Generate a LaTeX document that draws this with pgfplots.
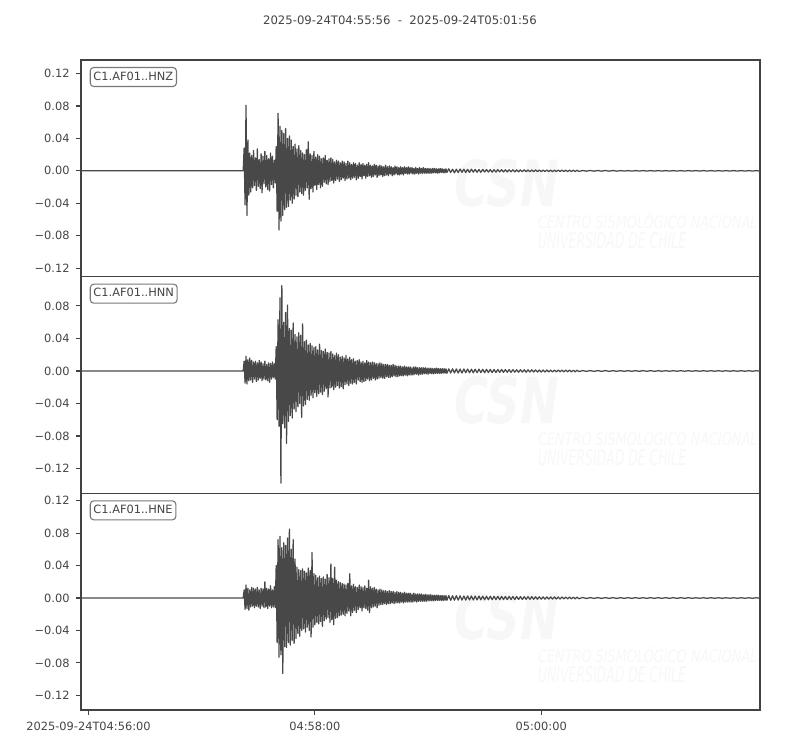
\documentclass[border=0pt]{standalone}
\usepackage{fontspec}
\setmainfont{DejaVu Sans}
\usepackage{pgfplots}
\pgfplotsset{compat=1.18}

\definecolor{trace}{RGB}{72,72,72}
\definecolor{frame}{RGB}{66,66,66}
\definecolor{txt}{RGB}{68,68,68}
\definecolor{boxline}{RGB}{120,120,120}
\definecolor{wmark}{RGB}{247,247,247}

\newcommand{\tfont}{\fontsize{8.2bp}{9.8bp}\selectfont}

\pgfplotsset{
  seis/.style={
    scale only axis, width=488.9bp, height=156bp,
    anchor=south west,
    xmin=-4, xmax=356,
    axis line style={draw=frame, line width=0.8bp},
    every tick/.style={draw=frame, line width=0.8bp},
    tick align=outside, major tick length=3.5bp,
    ytick pos=left, xtick pos=bottom,
    ticklabel style={font=\tfont, text=txt},
    yticklabel style={xshift=-1.2bp},
    xticklabel style={yshift=-2bp},
    clip=true,
  },
  trc/.style={draw=trace, line width=0.9bp, line join=round},
}
\tikzset{
  stn/.style={anchor=north west, draw=boxline, fill=white, rounded corners=2.5bp,
    line width=0.8bp, inner xsep=2.3bp, inner ysep=3.1bp, text height=6bp,
    text depth=1.5bp, font=\tfont, text=txt, xshift=6.3bp, yshift=-5bp},
}

\newcommand{\watermark}{%
  \node[text=wmark, anchor=center] at (rel axis cs:0.627,0.43)
    {\resizebox{75.6bp}{34bp}{\bfseries\itshape CSN}};
  \node[text=wmark, anchor=base west] at (rel axis cs:0.666,0.22)
    {\resizebox{158bp}{11.5bp}{\itshape CENTRO SISMOLÓGICO NACIONAL}};
  \node[text=wmark, anchor=base west] at (rel axis cs:0.666,0.128)
    {\resizebox{106.6bp}{11.5bp}{\itshape UNIVERSIDAD DE CHILE}};
}

\begin{document}
\begin{tikzpicture}
\path[use as bounding box] (0,0) rectangle (576bp,540bp);

\node[font=\fontsize{8.4bp}{10bp}\selectfont, text=txt] at (288bp,525.6bp)
  {2025-09-24T04:55:56\ \ -\ \ 2025-09-24T05:01:56};

% HNZ
\begin{axis}[seis, at={(58.3bp,340.8bp)},
  ymin=-0.1305, ymax=0.1367, xtick=\empty,
  ytick={-0.12,-0.08,-0.04,0,0.04,0.08,0.12},
  yticklabels={−0.12,−0.08,−0.04,0.00,0.04,0.08,0.12}]
\watermark
\addplot[trc] coordinates {
(-4,0) (82,0)
(82.5,0.028) (83,-0.042) (83.5,0.081) (84,-0.055) (84.5,0.038) (85,-0.030) (85.5,0.022) (86,-0.026) (86.5,0.019) (87,-0.021)
(87.5,0.025) (88,-0.018) (88.5,0.016) (89,-0.024) (89.5,0.027) (90,-0.019) (90.5,0.014) (91,-0.022) (91.5,0.021) (92,-0.027)
(92.5,0.018) (93,-0.016) (93.5,0.024) (94,-0.020) (94.5,0.019) (95,-0.023) (95.5,0.015) (96,-0.025) (96.5,0.022) (97,-0.017)
(97.5,0.018) (98,-0.021) (98.5,0.013) (99,-0.015) (99.5,0.030) (100,-0.050) (100.5,0.071) (101,-0.073) (101.5,0.055) (102,-0.062)
(102.5,0.050) (103,-0.055) (103.5,0.046) (104,-0.048) (104.5,0.052) (105,-0.045) (105.5,0.040) (106,-0.044) (106.5,0.043) (107,-0.036)
(107.5,0.038) (108,-0.040) (108.5,0.030) (109,-0.035) (109.5,0.033) (110,-0.030) (110.5,0.027) (111,-0.032) (111.5,0.031) (112,-0.026)
(112.5,0.025) (113,-0.028) (113.5,0.022) (114,-0.030) (114.5,0.020) (115,-0.024) (115.5,0.026) (116,-0.021) (116.5,0.036) (117,-0.035)
(117.5,0.021) (118,-0.022) (118.5,0.019) (119,-0.026) (119.5,0.024) (120,-0.018) (120.5,0.017) (121,-0.023) (121.5,0.020) (122,-0.017)
(122.5,0.018) (123,-0.021) (123.5,0.015) (124,-0.019) (124.5,0.016) (125,-0.014) (125.5,0.019) (126,-0.016) (126.5,0.013) (127,-0.017)
(127.5,0.015) (128,-0.013) (128.5,0.016) (129,-0.012) (129.5,0.014) (130,-0.015) (130.5,0.011) (131,-0.012) (131.5,0.013) (132,-0.010)
(132.5,0.012) (133,-0.013) (133.5,0.010) (134,-0.011) (134.5,0.012) (135,-0.009) (135.5,0.011) (136,-0.012) (136.5,0.009) (137,-0.010)
(137.5,0.012) (138,-0.009) (138.5,0.010) (139,-0.011) (139.5,0.008) (140,-0.009)
(140.5,0.010) (141,-0.008) (141.5,0.009) (142,-0.011) (142.5,0.007) (143,-0.009) (143.5,0.010) (144,-0.007) (144.5,0.008) (145,-0.010)
(145.5,0.009) (146,-0.006) (146.5,0.007) (147,-0.009) (147.5,0.008) (148,-0.007) (148.5,0.010) (149,-0.006) (149.5,0.007) (150,-0.008)
(150.5,0.006) (151,-0.007) (151.5,0.008) (152,-0.005) (152.5,0.007) (153,-0.008) (153.5,0.006) (154,-0.006) (154.5,0.007) (155,-0.005)
(155.5,0.006) (156,-0.007) (156.5,0.005) (157,-0.006) (157.5,0.007) (158,-0.005) (158.5,0.005) (159,-0.006) (159.5,0.006) (160,-0.004)
(160.5,0.005) (161,-0.006) (161.5,0.004) (162,-0.005) (162.5,0.006) (163,-0.004) (163.5,0.005) (164,-0.005) (164.5,0.004) (165,-0.005)
(165.5,0.005) (166,-0.004) (166.5,0.004) (167,-0.005) (167.5,0.005) (168,-0.003) (168.5,0.004) (169,-0.004) (169.5,0.005) (170,-0.004)
(170.5,0.004) (171,-0.003) (171.5,0.004) (172,-0.004) (172.5,0.003) (173,-0.004) (173.5,0.004) (174,-0.003) (174.5,0.003) (175,-0.004)
(175.5,0.004) (176,-0.003) (176.5,0.003) (177,-0.003) (177.5,0.004) (178,-0.003) (178.5,0.003) (179,-0.003) (179.5,0.003) (180,-0.003)
(180.5,0.003) (181,-0.003) (181.5,0.0025) (182,-0.003) (182.5,0.003) (183,-0.0025) (183.5,0.003) (184,-0.0025) (184.5,0.0025) (185,-0.003)
(185.5,0.0025) (186,-0.0025) (186.5,0.003) (187,-0.002) (187.5,0.0025) (188,-0.0025) (188.5,0.002) (189,-0.0025) (189.5,0.0025) (190,-0.002)
(191,0.0025) (192,-0.002) (193,0.002) (194,-0.0025) (195,0.002) (196,-0.002) (197,0.0022) (198,-0.0018) (199,0.002) (200,-0.002)
(201,0.0018) (202,-0.002) (203,0.002) (204,-0.0016) (205,0.0018) (206,-0.0018) (207,0.0016) (208,-0.0018) (209,0.0018) (210,-0.0015)
(211,0.0016) (212,-0.0015) (213,0.0015) (214,-0.0016) (215,0.0014) (216,-0.0015) (217,0.0015) (218,-0.0013) (219,0.0014) (220,-0.0014)
(221,0.0013) (222,-0.0014) (223,0.0013) (224,-0.0012) (225,0.0013) (226,-0.0013) (227,0.0012) (228,-0.0012) (229,0.0012) (230,-0.0011)
(231,0.0012) (232,-0.0011) (233,0.0011) (234,-0.0011) (235,0.0011) (236,-0.001) (237,0.0011) (238,-0.001) (239,0.001) (240,-0.001)
(241,0.001) (242,-0.0009) (243,0.001) (244,-0.0009) (245,0.0009) (246,-0.001) (247,0.0009) (248,-0.0009) (249,0.0009) (250,-0.0008)
(251,0.0009) (252,-0.0008) (253,0.0008) (254,-0.0009) (255,0.0008) (256,-0.0008) (257,0.0008) (258,-0.0008) (259,0.0007) (260,-0.0007)
(262,0.0004) (264,-0.0004) (266,0.0004) (268,-0.0004) (270,0.0004) (272,-0.0004) (274,0.0004) (276,-0.0004) (278,0.0004) (280,-0.0004)
(282,0.0003) (284,-0.0003) (286,0.0003) (288,-0.0003) (290,0.0003) (292,-0.0003) (294,0.0003) (296,-0.0003) (298,0.0003) (300,-0.0003)
(302,0.0003) (304,-0.0003) (306,0.0003) (308,-0.0003) (310,0.0003) (312,-0.0003) (314,0.0003) (316,-0.0003) (318,0.0003) (320,-0.0003)
(322,0.0003) (324,-0.0003) (326,0.0003) (328,-0.0003) (330,0.0003) (332,-0.0003) (334,0.0003) (336,-0.0003) (338,0.0003) (340,-0.0003)
(342,0.0003) (344,-0.0003) (346,0.0003) (348,-0.0003) (350,0.0003) (352,-0.0003) (354,0.0003) (356,-0.0003)
};
\node[stn] at (rel axis cs:0,1) {C1.AF01..HNZ};
\end{axis}

% HNN
\begin{axis}[seis, at={(58.3bp,184.8bp)},
  ymin=-0.1505, ymax=0.116, xtick=\empty,
  ytick={-0.12,-0.08,-0.04,0,0.04,0.08},
  yticklabels={−0.12,−0.08,−0.04,0.00,0.04,0.08}]
\watermark
\addplot[trc] coordinates {
(-4,0) (82,0)
(82.5,0.012) (83,-0.015) (83.5,0.018) (84,-0.016) (84.5,0.014) (85,-0.012) (85.5,0.016) (86,-0.011) (86.5,0.013) (87,-0.014)
(87.5,0.011) (88,-0.010) (88.5,0.012) (89,-0.013) (89.5,0.010) (90,-0.011) (90.5,0.013) (91,-0.009) (91.5,0.011) (92,-0.012)
(92.5,0.009) (93,-0.010) (93.5,0.012) (94,-0.011) (94.5,0.008) (95,-0.012) (95.5,0.010) (96,-0.014) (96.5,0.009) (97,-0.010)
(97.5,0.011) (98,-0.008) (98.5,0.009) (99,-0.010) (99.5,0.030) (100,-0.060) (100.5,0.063) (101,-0.068) (101.5,0.090) (102,-0.138)
(102.5,0.105) (103,-0.065) (103.5,0.060) (104,-0.070) (104.5,0.072) (105,-0.089) (105.5,0.081) (106,-0.062) (106.5,0.052) (107,-0.055)
(107.5,0.050) (108,-0.058) (108.5,0.059) (109,-0.047) (109.5,0.045) (110,-0.050) (110.5,0.042) (111,-0.044) (111.5,0.047) (112,-0.040)
(112.5,0.044) (113,-0.057) (113.5,0.058) (114,-0.043) (114.5,0.036) (115,-0.041) (115.5,0.038) (116,-0.035) (116.5,0.032) (117,-0.036)
(117.5,0.034) (118,-0.030) (118.5,0.031) (119,-0.033) (119.5,0.029) (120,-0.027) (120.5,0.030) (121,-0.031) (121.5,0.026) (122,-0.028)
(122.5,0.033) (123,-0.026) (123.5,0.025) (124,-0.029) (124.5,0.024) (125,-0.025) (125.5,0.027) (126,-0.022) (126.5,0.023) (127,-0.032)
(127.5,0.022) (128,-0.021) (128.5,0.024) (129,-0.020) (129.5,0.021) (130,-0.023) (130.5,0.019) (131,-0.020) (131.5,0.022) (132,-0.018)
(132.5,0.020) (133,-0.021) (133.5,0.017) (134,-0.019) (134.5,0.018) (135,-0.022) (135.5,0.016) (136,-0.017) (136.5,0.019) (137,-0.016)
(137.5,0.015) (138,-0.018) (138.5,0.017) (139,-0.015) (139.5,0.014) (140,-0.016)
(140.5,0.015) (141,-0.014) (141.5,0.012) (142,-0.016) (142.5,0.013) (143,-0.011) (143.5,0.014) (144,-0.013) (144.5,0.011) (145,-0.014)
(145.5,0.012) (146,-0.013) (146.5,0.010) (147,-0.012) (147.5,0.013) (148,-0.010) (148.5,0.011) (149,-0.012) (149.5,0.010) (150,-0.011)
(150.5,0.011) (151,-0.009) (151.5,0.010) (152,-0.011) (152.5,0.009) (153,-0.010) (153.5,0.009) (154,-0.009) (154.5,0.010) (155,-0.008)
(155.5,0.009) (156,-0.009) (156.5,0.008) (157,-0.009) (157.5,0.008) (158,-0.007) (158.5,0.008) (159,-0.008) (159.5,0.007) (160,-0.008)
(160.5,0.007) (161,-0.007) (161.5,0.008) (162,-0.006) (162.5,0.007) (163,-0.007) (163.5,0.006) (164,-0.007) (164.5,0.006) (165,-0.006)
(165.5,0.006) (166,-0.006) (166.5,0.005) (167,-0.006) (167.5,0.006) (168,-0.005) (168.5,0.005) (169,-0.006) (169.5,0.005) (170,-0.005)
(170.5,0.005) (171,-0.005) (171.5,0.004) (172,-0.005) (172.5,0.005) (173,-0.004) (173.5,0.005) (174,-0.004) (174.5,0.004) (175,-0.005)
(175.5,0.004) (176,-0.004) (176.5,0.004) (177,-0.004) (177.5,0.004) (178,-0.0035) (178.5,0.004) (179,-0.0035) (179.5,0.0035) (180,-0.004)
(180.5,0.0035) (181,-0.003) (181.5,0.0035) (182,-0.0035) (182.5,0.003) (183,-0.0035) (183.5,0.003) (184,-0.003) (184.5,0.0035) (185,-0.003)
(185.5,0.003) (186,-0.003) (186.5,0.0028) (187,-0.003) (187.5,0.003) (188,-0.0026) (188.5,0.0028) (189,-0.0028) (189.5,0.0026) (190,-0.0028)
(191,0.0026) (192,-0.0025) (193,0.0027) (194,-0.0024) (195,0.0025) (196,-0.0025) (197,0.0023) (198,-0.0025) (199,0.0024) (200,-0.0022)
(201,0.0023) (202,-0.0022) (203,0.0022) (204,-0.0023) (205,0.0021) (206,-0.0021) (207,0.0022) (208,-0.002) (209,0.002) (210,-0.0021)
(211,0.002) (212,-0.0019) (213,0.0019) (214,-0.002) (215,0.0018) (216,-0.0019) (217,0.0018) (218,-0.0017) (219,0.0018) (220,-0.0017)
(221,0.0017) (222,-0.0016) (223,0.0016) (224,-0.0017) (225,0.0016) (226,-0.0015) (227,0.0015) (228,-0.0016) (229,0.0015) (230,-0.0014)
(231,0.0014) (232,-0.0015) (233,0.0014) (234,-0.0013) (235,0.0014) (236,-0.0013) (237,0.0013) (238,-0.0013) (239,0.0012) (240,-0.0013)
(241,0.0012) (242,-0.0012) (243,0.0012) (244,-0.0011) (245,0.0011) (246,-0.0012) (247,0.0011) (248,-0.0011) (249,0.0011) (250,-0.001)
(251,0.001) (252,-0.0011) (253,0.001) (254,-0.001) (255,0.001) (256,-0.001) (257,0.0009) (258,-0.001) (259,0.0009) (260,-0.0008)
(262,0.0005) (264,-0.0005) (266,0.0005) (268,-0.0005) (270,0.0005) (272,-0.0005) (274,0.0005) (276,-0.0005) (278,0.0004) (280,-0.0004)
(282,0.0004) (284,-0.0004) (286,0.0004) (288,-0.0004) (290,0.0004) (292,-0.0004) (294,0.0004) (296,-0.0004) (298,0.0004) (300,-0.0004)
(302,0.0003) (304,-0.0003) (306,0.0003) (308,-0.0003) (310,0.0003) (312,-0.0003) (314,0.0003) (316,-0.0003) (318,0.0003) (320,-0.0003)
(322,0.0003) (324,-0.0003) (326,0.0003) (328,-0.0003) (330,0.0003) (332,-0.0003) (334,0.0003) (336,-0.0003) (338,0.0003) (340,-0.0003)
(342,0.0003) (344,-0.0003) (346,0.0003) (348,-0.0003) (350,0.0003) (352,-0.0003) (354,0.0003) (356,-0.0003)
};
\node[stn] at (rel axis cs:0,1) {C1.AF01..HNN};
\end{axis}

% HNE
\begin{axis}[seis, at={(58.3bp,28.8bp)},
  ymin=-0.138, ymax=0.129,
  xtick={0,120,240},
  xticklabels={2025-09-24T04:56:00,04:58:00,05:00:00},
  ytick={-0.12,-0.08,-0.04,0,0.04,0.08,0.12},
  yticklabels={−0.12,−0.08,−0.04,0.00,0.04,0.08,0.12}]
\watermark
\addplot[trc] coordinates {
(-4,0) (82,0)
(82.5,0.010) (83,-0.014) (83.5,0.016) (84,-0.013) (84.5,0.012) (85,-0.015) (85.5,0.010) (86,-0.011) (86.5,0.013) (87,-0.010)
(87.5,0.012) (88,-0.012) (88.5,0.011) (89,-0.010) (89.5,0.013) (90,-0.011) (90.5,0.010) (91,-0.013) (91.5,0.012) (92,-0.010)
(92.5,0.011) (93,-0.012) (93.5,0.020) (94,-0.011) (94.5,0.012) (95,-0.013) (95.5,0.011) (96,-0.010) (96.5,0.015) (97,-0.012)
(97.5,0.010) (98,-0.011) (98.5,0.014) (99,-0.012) (99.5,0.040) (100,-0.055) (100.5,0.072) (101,-0.073) (101.5,0.076) (102,-0.070)
(102.5,0.062) (103,-0.093) (103.5,0.068) (104,-0.060) (104.5,0.065) (105,-0.061) (105.5,0.074) (106,-0.055) (106.5,0.085) (107,-0.058)
(107.5,0.060) (108,-0.052) (108.5,0.072) (109,-0.056) (109.5,0.048) (110,-0.050) (110.5,0.038) (111,-0.044) (111.5,0.035) (112,-0.047)
(112.5,0.034) (113,-0.040) (113.5,0.036) (114,-0.038) (114.5,0.033) (115,-0.042) (115.5,0.031) (116,-0.036) (116.5,0.037) (117,-0.040)
(117.5,0.034) (118,-0.048) (118.5,0.056) (119,-0.036) (119.5,0.030) (120,-0.033) (120.5,0.028) (121,-0.030) (121.5,0.025) (122,-0.032)
(122.5,0.027) (123,-0.029) (123.5,0.024) (124,-0.035) (124.5,0.026) (125,-0.028) (125.5,0.023) (126,-0.026) (126.5,0.029) (127,-0.024)
(127.5,0.025) (128,-0.030) (128.5,0.042) (129,-0.027) (129.5,0.024) (130,-0.033) (130.5,0.038) (131,-0.025) (131.5,0.022) (132,-0.024)
(132.5,0.020) (133,-0.022) (133.5,0.019) (134,-0.021) (134.5,0.018) (135,-0.020) (135.5,0.017) (136,-0.022) (136.5,0.016) (137,-0.019)
(137.5,0.018) (138,-0.016) (138.5,0.030) (139,-0.022) (139.5,0.015) (140,-0.018)
(140.5,0.017) (141,-0.015) (141.5,0.014) (142,-0.018) (142.5,0.013) (143,-0.014) (143.5,0.016) (144,-0.012) (144.5,0.014) (145,-0.016)
(145.5,0.013) (146,-0.012) (146.5,0.015) (147,-0.013) (147.5,0.012) (148,-0.015) (148.5,0.022) (149,-0.018) (149.5,0.014) (150,-0.012)
(150.5,0.012) (151,-0.011) (151.5,0.013) (152,-0.010) (152.5,0.011) (153,-0.012) (153.5,0.010) (154,-0.009) (154.5,0.011) (155,-0.008)
(155.5,0.010) (156,-0.008) (156.5,0.009) (157,-0.007) (157.5,0.009) (158,-0.008) (158.5,0.008) (159,-0.007) (159.5,0.009) (160,-0.007)
(160.5,0.008) (161,-0.006) (161.5,0.008) (162,-0.007) (162.5,0.007) (163,-0.006) (163.5,0.008) (164,-0.006) (164.5,0.007) (165,-0.006)
(165.5,0.007) (166,-0.005) (166.5,0.006) (167,-0.006) (167.5,0.007) (168,-0.005) (168.5,0.006) (169,-0.005) (169.5,0.006) (170,-0.005)
(170.5,0.006) (171,-0.005) (171.5,0.005) (172,-0.005) (172.5,0.006) (173,-0.004) (173.5,0.005) (174,-0.005) (174.5,0.005) (175,-0.004)
(175.5,0.005) (176,-0.004) (176.5,0.005) (177,-0.004) (177.5,0.004) (178,-0.004) (178.5,0.0045) (179,-0.004) (179.5,0.004) (180,-0.0035)
(180.5,0.004) (181,-0.0035) (181.5,0.004) (182,-0.0035) (182.5,0.0035) (183,-0.0035) (183.5,0.0035) (184,-0.003) (184.5,0.0035) (185,-0.003)
(185.5,0.0035) (186,-0.003) (186.5,0.003) (187,-0.003) (187.5,0.0032) (188,-0.003) (188.5,0.003) (189,-0.0028) (189.5,0.003) (190,-0.0028)
(191,0.003) (192,-0.0028) (193,0.0028) (194,-0.0027) (195,0.0028) (196,-0.0026) (197,0.0027) (198,-0.0026) (199,0.0026) (200,-0.0025)
(201,0.0026) (202,-0.0024) (203,0.0025) (204,-0.0024) (205,0.0024) (206,-0.0023) (207,0.0024) (208,-0.0022) (209,0.0023) (210,-0.0022)
(211,0.0022) (212,-0.0021) (213,0.0022) (214,-0.002) (215,0.0021) (216,-0.002) (217,0.002) (218,-0.002) (219,0.002) (220,-0.0019)
(221,0.0019) (222,-0.0019) (223,0.0019) (224,-0.0018) (225,0.0018) (226,-0.0018) (227,0.0018) (228,-0.0017) (229,0.0017) (230,-0.0017)
(231,0.0017) (232,-0.0016) (233,0.0016) (234,-0.0016) (235,0.0016) (236,-0.0015) (237,0.0015) (238,-0.0015) (239,0.0015) (240,-0.0014)
(241,0.0014) (242,-0.0014) (243,0.0014) (244,-0.0013) (245,0.0013) (246,-0.0013) (247,0.0013) (248,-0.0012) (249,0.0012) (250,-0.0012)
(251,0.0012) (252,-0.0011) (253,0.0011) (254,-0.0011) (255,0.0011) (256,-0.001) (257,0.001) (258,-0.001) (259,0.001) (260,-0.0009)
(262,0.0006) (264,-0.0006) (266,0.0005) (268,-0.0005) (270,0.0005) (272,-0.0005) (274,0.0005) (276,-0.0005) (278,0.0005) (280,-0.0005)
(282,0.0004) (284,-0.0004) (286,0.0004) (288,-0.0004) (290,0.0004) (292,-0.0004) (294,0.0004) (296,-0.0004) (298,0.0004) (300,-0.0004)
(302,0.0004) (304,-0.0004) (306,0.0004) (308,-0.0004) (310,0.0004) (312,-0.0004) (314,0.0004) (316,-0.0004) (318,0.0004) (320,-0.0004)
(322,0.0003) (324,-0.0003) (326,0.0003) (328,-0.0003) (330,0.0003) (332,-0.0003) (334,0.0003) (336,-0.0003) (338,0.0003) (340,-0.0003)
(342,0.0003) (344,-0.0003) (346,0.0003) (348,-0.0003) (350,0.0003) (352,-0.0003) (354,0.0003) (356,-0.0003)
};
\node[stn] at (rel axis cs:0,1) {C1.AF01..HNE};
\end{axis}
\end{tikzpicture}
\end{document}
